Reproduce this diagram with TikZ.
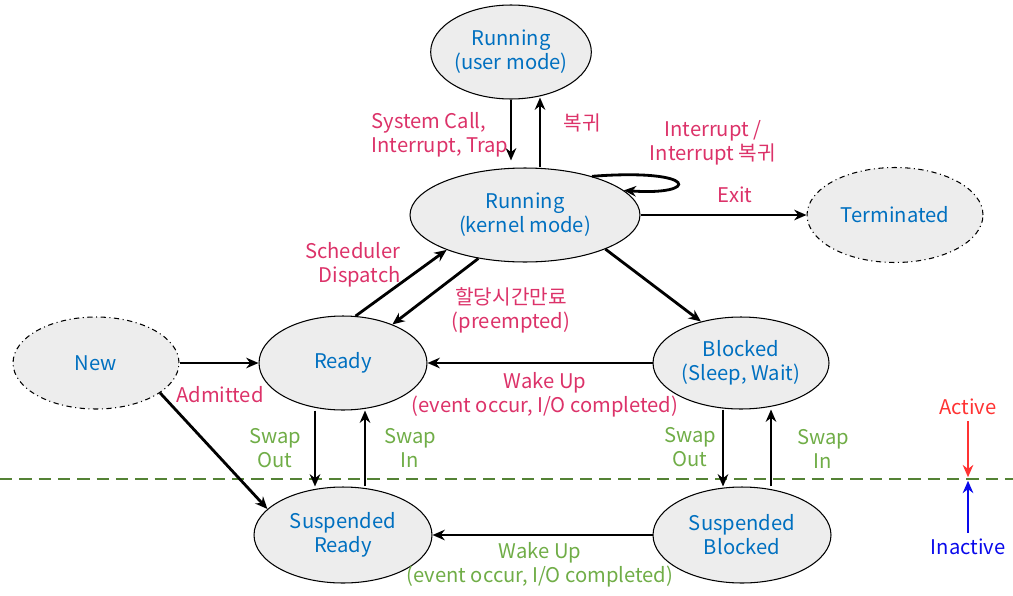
\documentclass[tikz,border=0pt]{standalone}
\usepackage{fontspec}
\setmainfont{Noto Sans CJK KR}
\usetikzlibrary{positioning, shapes.geometric, arrows.meta, calc}

\definecolor{statetext}{RGB}{0,112,192}
\definecolor{statefill}{RGB}{237,237,237}
\definecolor{eventpink}{RGB}{220,50,105}
\definecolor{swapgreen}{RGB}{112,173,71}
\definecolor{levelgreen}{RGB}{84,130,53}
\definecolor{activered}{RGB}{255,51,51}
\definecolor{inactiveblue}{RGB}{10,10,235}

\tikzset{
  labelfont/.style={font=\fontsize{11.5pt}{13.6pt}\selectfont},
  state/.style={ellipse, draw, line width=0.6pt, fill=statefill, text=statetext,
    align=center, inner sep=0pt, labelfont},
  endstate/.style={state, dash dot},
  trans/.style={-{Stealth[length=7pt,width=6pt]}, line width=1.6pt},
  evlabel/.style={text=eventpink, align=center, labelfont},
  swaplabel/.style={text=swapgreen, align=center, labelfont},
}

\begin{document}
\begin{tikzpicture}[x=0.02cm, y=-0.02cm]
    \useasboundingbox (0,0) rectangle (1013,595);

    % States
    \node[state, minimum width=2.92cm, minimum height=1.88cm] (user) at (511,52) {Running\\(user mode)};
    \node[state, minimum width=4.6cm, minimum height=1.88cm] (kern) at (525,215) {Running\\(kernel mode)};
    \node[endstate, minimum width=3.52cm, minimum height=1.9cm] (term) at (895,215) {Terminated};
    \node[endstate, minimum width=3.32cm, minimum height=1.84cm] (new) at (96,363) {New};
    \node[state, minimum width=3.36cm, minimum height=1.88cm] (ready) at (343,363) {Ready};
    \node[state, minimum width=3.52cm, minimum height=1.84cm] (blocked) at (741,363) {Blocked\\(Sleep, Wait)};
    \node[state, minimum width=3.56cm, minimum height=1.92cm] (sready) at (343,535) {Suspended\\Ready};
    \node[state, minimum width=3.56cm, minimum height=1.92cm] (sblocked) at (742,535) {Suspended\\Blocked};

    % Active / inactive level
    \draw[levelgreen, line width=1pt, dash pattern=on 7 off 4] (0,479) -- (1013,479);
    \coordinate (lvl) at (968,479);
    \node[text=activered, labelfont] (act) at (968,407) {Active};
    \node[text=inactiveblue, labelfont] (inact) at (968,547) {Inactive};
    \draw[activered, -{Stealth[length=7pt,width=6pt]}, line width=1.6pt] (act) -- ([yshift=1pt]lvl);
    \draw[inactiveblue, -{Stealth[length=7pt,width=6pt]}, line width=1.6pt] (inact) -- ([yshift=-1pt]lvl);

    % Transitions
    \draw[trans, shorten >=4pt] (user.south) -- (user.south |- kern.north);
    \draw[trans] ($(kern.north)+(15,0)$) -- ($(user.south)+(29,-2)$);
    \draw[trans] (kern.30) .. controls (700,168) and (700,196) .. (kern.14);
    \draw[trans] (kern.east) -- (term.west);
    \draw[trans] (kern.-23) -- (blocked.134);
    \draw[trans] (ready.75) -- (kern.-156);
    \draw[trans] (kern.-137) -- (ready.38);
    \draw[trans] (new.east) -- (ready.west);
    \draw[trans] (blocked.west) -- (ready.east);
    \draw[trans] (new.-25) -- (sready.161);
    \draw[trans] ($(ready.south)+(-28,0)$) -- ($(sready.north)+(-28,0)$);
    \draw[trans] ($(sready.north)+(22,0)$) -- ($(ready.south)+(22,0)$);
    \draw[trans] ($(blocked.south)+(-18,0)$) -- ($(sblocked.north)+(-19,0)$);
    \draw[trans] ($(sblocked.north)+(29,0)$) -- ($(blocked.south)+(30,0)$);
    \draw[trans] (sblocked.west) -- (sready.east);

    % Labels
    \node[evlabel, align=left] (lsys) at (440,135) {System Call,\\Interrupt, Trap};
    \node[evlabel] (lret) at (582,123) {복귀};
    \node[evlabel] (lint) at (713,143) {Interrupt /\\Interrupt 복귀};
    \node[evlabel] (lexit) at (735,195) {Exit};
    \node[evlabel, align=right] (lsched) at (353,265) {Scheduler\\Dispatch};
    \node[evlabel] (lpre) at (511,310) {할당시간만료\\(preempted)};
    \node[evlabel] (ladm) at (220,395) {Admitted};
    \node[evlabel] (lwake) at (545,395) {Wake Up\\(event occur, I/O completed)};
    \node[swaplabel] (lout1) at (275,448) {Swap\\Out};
    \node[swaplabel] (lin1) at (410,448) {Swap\\In};
    \node[swaplabel] (lout2) at (690,447) {Swap\\Out};
    \node[swaplabel] (lin2) at (823,449) {Swap\\In};
    \node[swaplabel] (lswake) at (540,565) {Wake Up\\(event occur, I/O completed)};

\end{tikzpicture}
\end{document}
